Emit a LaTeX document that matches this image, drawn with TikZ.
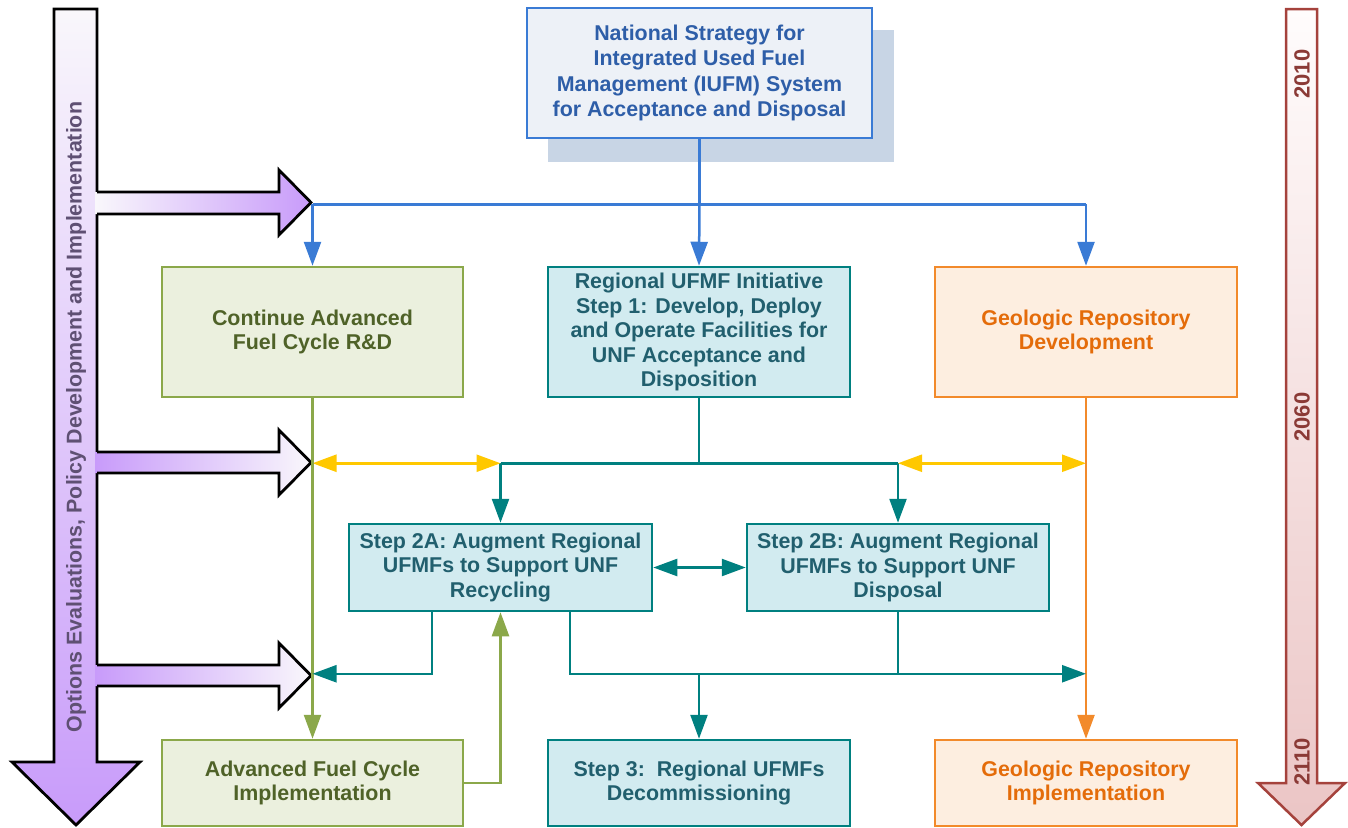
\documentclass[tikz,border=0pt]{standalone}
\usepackage{fontspec}
\setmainfont{Liberation Sans}
\usetikzlibrary{arrows.meta}
\definecolor{bborder}{RGB}{58,123,213}
\definecolor{bfill}{RGB}{237,241,247}
\definecolor{btext}{RGB}{46,94,168}
\definecolor{shadowc}{RGB}{200,213,229}
\definecolor{gborder}{RGB}{139,168,74}
\definecolor{gfill}{RGB}{235,240,222}
\definecolor{gtext}{RGB}{79,98,40}
\definecolor{tborder}{RGB}{0,128,128}
\definecolor{tfill}{RGB}{210,235,240}
\definecolor{ttext}{RGB}{33,95,110}
\definecolor{oborder}{RGB}{242,138,43}
\definecolor{ofill}{RGB}{253,238,224}
\definecolor{otext}{RGB}{228,108,10}
\definecolor{yel}{RGB}{255,200,0}
\definecolor{purp}{RGB}{200,155,250}
\definecolor{purplight}{RGB}{249,247,251}
\definecolor{lefttext}{RGB}{95,80,115}
\definecolor{rborder}{RGB}{165,66,60}
\definecolor{rlight}{RGB}{255,252,252}
\definecolor{rdark}{RGB}{235,197,197}
\definecolor{rtext}{RGB}{139,58,54}
\tikzset{
  box/.style={draw, line width=2.5pt, align=center, inner sep=0pt,
    font=\fontsize{21.4}{24.5}\selectfont\bfseries},
  bbox/.style={box, draw=bborder, fill=bfill, text=btext, minimum width=345, minimum height=130,
    font=\fontsize{21.4}{25.4}\selectfont\bfseries},
  gbox/.style={box, draw=gborder, fill=gfill, text=gtext, minimum width=301, minimum height=130},
  tbox/.style={box, draw=tborder, fill=tfill, text=ttext, minimum width=302, minimum height=130},
  obox/.style={box, draw=oborder, fill=ofill, text=otext, minimum width=302, minimum height=130},
  short/.style={minimum height=86},
  arr/.style={-{Triangle[length=24pt,width=17pt]}},
  darr/.style={{Triangle[length=24pt,width=17pt]}-{Triangle[length=24pt,width=17pt]}},
  bline/.style={draw=bborder, line width=2.5pt},
  gline/.style={draw=gborder, line width=2.5pt},
  tline/.style={draw=tborder, line width=2.5pt},
  oline/.style={draw=oborder, line width=2.5pt},
  yline/.style={draw=yel, line width=2.5pt},
  pout/.style={draw=black, line width=2.8pt, line join=miter},
  yearlbl/.style={rotate=90, text=rtext, font=\fontsize{22}{24}\selectfont\bfseries}
}
\begin{document}
\begin{tikzpicture}[x=1pt,y=-1pt]
\useasboundingbox (0,0) rectangle (1348,827);

% left vertical arrow
\shade[top color=purplight, bottom color=purp]
  (54,9) -- (97,9) -- (97,762) -- (140,762) -- (76,825) -- (12,762) -- (54,762) -- cycle;
\draw[pout] (54,9) -- (97,9) -- (97,762) -- (140,762) -- (76,825) -- (12,762) -- (54,762) -- cycle;

% horizontal arrows from the left bar
\shade[left color=purplight, right color=purp]
  (95.5,192) -- (279,192) -- (279,170) -- (311,202.5) -- (279,235) -- (279,214) -- (95.5,214) -- cycle;
\draw[pout] (97,192) -- (279,192) -- (279,170) -- (311,202.5) -- (279,235) -- (279,214) -- (97,214);
\shade[left color=purp, right color=purplight]
  (95.5,452) -- (279,452) -- (279,430) -- (311,462.5) -- (279,495) -- (279,473) -- (95.5,473) -- cycle;
\draw[pout] (97,452) -- (279,452) -- (279,430) -- (311,462.5) -- (279,495) -- (279,473) -- (97,473);
\shade[left color=purp, right color=purplight]
  (95.5,665) -- (279,665) -- (279,643) -- (311,675.5) -- (279,708) -- (279,686) -- (95.5,686) -- cycle;
\draw[pout] (97,665) -- (279,665) -- (279,643) -- (311,675.5) -- (279,708) -- (279,686) -- (97,686);

\node[rotate=90, text=lefttext, font=\fontsize{21.4}{24}\selectfont\bfseries] (leftlbl) at (76,417)
  {Options Evaluations, Policy Development and Implementation};

% right timeline arrow
\shade[top color=rlight, bottom color=rdark]
  (1286,9) -- (1317,9) -- (1317,783) -- (1345,783) -- (1301.5,825) -- (1258,783) -- (1286,783) -- cycle;
\draw[draw=rborder, line width=2.5pt]
  (1286,9) -- (1317,9) -- (1317,783) -- (1345,783) -- (1301.5,825) -- (1258,783) -- (1286,783) -- cycle;
\node[yearlbl] (y2010) at (1302,74) {2010};
\node[yearlbl] (y2060) at (1302,417) {2060};
\node[yearlbl] (y2110) at (1302,762) {2110};

% top box with shadow
\fill[shadowc] (548,30) rectangle (894,162);
\node[bbox] (top) at (699.5,73) {National Strategy for\\Integrated Used Fuel\\Management (IUFM) System\\for Acceptance and Disposal};

% row 1
\node[gbox] (g1) at (312.5,332) {Continue Advanced\\Fuel Cycle R\&D};
\node[tbox] (t1) at (699,332) {Regional UFMF Initiative\\Step 1: Develop, Deploy\\and Operate Facilities for\\UNF Acceptance and\\Disposition};
\node[obox] (o1) at (1086,332) {Geologic Repository\\Development};

% row 2
\node[tbox, minimum width=303, minimum height=87] (s2a) at (500.5,567.5) {Step 2A: Augment Regional\\UFMFs to Support UNF\\Recycling};
\node[tbox, minimum height=87] (s2b) at (898,567.5) {Step 2B: Augment Regional\\UFMFs to Support UNF\\Disposal};

% row 3
\node[gbox, short] (g3) at (312.5,783) {Advanced Fuel Cycle\\Implementation};
\node[tbox, short] (t3) at (699,783) {Step 3:~~Regional UFMFs\\Decommissioning};
\node[obox, short] (o3) at (1086,783) {Geologic Repository\\Implementation};

% blue connectors
\path (top.south) ++(0,65) coordinate (bj);
\coordinate (bl) at (g1.north |- bj);
\coordinate (br) at (o1.north |- bj);
\draw[bline] (top.south) -- (bj);
\draw[bline] (bl) -- (br);
\draw[bline, arr] (bl) -- (g1.north);
\draw[bline, arr] (bj) -- (t1.north);
\draw[bline, arr] (br) -- (o1.north);

% teal split to step 2
\path (t1.south) ++(0,65) coordinate (tj);
\coordinate (ta) at (s2a.north |- tj);
\coordinate (tb) at (s2b.north |- tj);
\coordinate (ga) at (g1.south |- tj);
\coordinate (oa) at (o1.south |- tj);
\draw[tline] (t1.south) -- (tj);
\draw[tline] (ta) -- (tb);
\draw[tline, arr] (ta) -- (s2a.north);
\draw[tline, arr] (tb) -- (s2b.north);
\draw[yline, darr] (ga) -- (ta);
\draw[yline, darr] (tb) -- (oa);

% step 2A <-> 2B
\draw[tline, darr] (s2a.east) -- (s2b.west);

% verticals
\draw[gline, arr] (g1.south) -- (g3.north);
\draw[oline, arr] (o1.south) -- (o3.north);

% teal lower connectors
\path (t3.north) ++(0,-65) coordinate (lj);
\path (s2a.south) ++(-68.5,0) coordinate (a1);
\path (s2a.south) ++(69.5,0) coordinate (a2);
\draw[tline, arr] (a1) |- (g1.south |- lj);
\draw[tline, arr] (a2) |- (o1.south |- lj);
\draw[tline] (s2b.south) -- (s2b.south |- lj);
\draw[tline, arr] (lj) -- (t3.north);

% green feedback
\draw[gline, arr] (g3.east) -| (s2a.south);
\end{tikzpicture}
\end{document}
